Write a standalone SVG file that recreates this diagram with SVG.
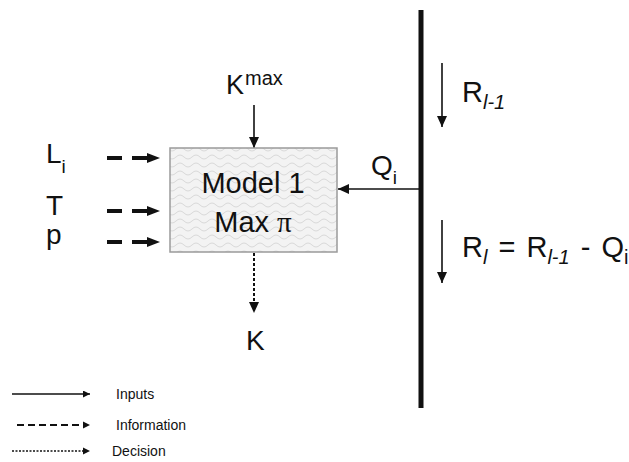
<svg xmlns="http://www.w3.org/2000/svg" width="629" height="462" viewBox="0 0 629 462">
<defs>
<style>
text{font-family:"Liberation Sans",Arial,sans-serif;fill:#111}
.lbl{font-size:28px}
.sub{font-size:19px}
.leg{font-size:14px}
.thin{stroke:#111;stroke-width:1.6;fill:none}
.info{stroke:#111;stroke-width:4;stroke-dasharray:15 10;fill:none}
.dec{stroke:#111;stroke-width:2;stroke-dasharray:3 2;fill:none}
.head{fill:#111}
</style>
<marker id="ah" markerUnits="userSpaceOnUse" markerWidth="12" markerHeight="10" refX="11" refY="5" orient="auto">
<path d="M0,0 L11,5 L0,10 Z" fill="#111"/>
</marker>
<marker id="ahs" markerUnits="userSpaceOnUse" markerWidth="8" markerHeight="7" refX="7" refY="3.5" orient="auto">
<path d="M0,0 L7,3.5 L0,7 Z" fill="#111"/>
</marker>
<pattern id="wave" patternUnits="userSpaceOnUse" width="16" height="8">
<rect width="16" height="8" fill="#f3f3f3"/>
<path d="M0,5 Q4,1 8,5 T16,5" stroke="#d9d9d9" stroke-width="1" fill="none"/>
</pattern>
</defs>

<g id="connectors">
<line class="thin" x1="254" y1="105" x2="254" y2="148" marker-end="url(#ah)"/>
<line class="thin" x1="420" y1="189" x2="338" y2="189" marker-end="url(#ah)"/>
<line class="dec" x1="254" y1="253" x2="254" y2="313" marker-end="url(#ah)"/>
<line class="info" x1="107" y1="158" x2="147" y2="158"/>
<path class="head" d="M147,153 L160,158 L147,163 Z"/>
<line class="info" x1="107" y1="211" x2="147" y2="211"/>
<path class="head" d="M147,206 L160,211 L147,216 Z"/>
<line class="info" x1="107" y1="242" x2="147" y2="242"/>
<path class="head" d="M147,237 L160,242 L147,247 Z"/>
<line class="thin" x1="442" y1="63" x2="442" y2="127" marker-end="url(#ah)"/>
<line class="thin" x1="442" y1="220" x2="442" y2="283" marker-end="url(#ah)"/>
</g>

<g id="stream">
<line x1="421" y1="10" x2="421" y2="408" stroke="#111" stroke-width="5"/>
</g>

<g id="model1">
<rect x="170" y="148" width="167" height="104" fill="url(#wave)" stroke="#9a9a9a" stroke-width="1.5"/>
<text x="253" y="193" text-anchor="middle" style="font-size:29px">Model 1</text>
<text x="253" y="232" text-anchor="middle" style="font-size:29px">Max <tspan style="font-family:'Liberation Serif',serif">π</tspan></text>
</g>

<g id="kmax">
<text x="226" y="94" style="font-size:27px">K<tspan x="245" y="85" style="font-size:20px">max</tspan></text>
</g>
<g id="li"><text class="lbl" x="46" y="163">L<tspan class="sub" dy="10">i</tspan></text></g>
<g id="t"><text class="lbl" x="46" y="215">T</text></g>
<g id="p"><text class="lbl" x="46" y="244">p</text></g>
<g id="qi"><text class="lbl" x="371" y="175">Q<tspan class="sub" dy="9">i</tspan></text></g>
<g id="k"><text class="lbl" x="246" y="350">K</text></g>
<g id="rl1"><text class="lbl" x="462" y="102" style="font-size:29px">R<tspan class="sub" dy="7" font-style="italic" style="font-size:20px">l-1</tspan></text></g>
<g id="rl"><text class="lbl" x="462" y="257" style="font-size:29px;word-spacing:3px">R<tspan class="sub" dy="7" font-style="italic" style="font-size:20px">l</tspan><tspan dy="-7"> = R</tspan><tspan class="sub" dy="7" font-style="italic" style="font-size:20px">l-1</tspan><tspan dy="-7"> - Q</tspan><tspan class="sub" dy="7" style="font-size:20px">i</tspan></text></g>

<g id="legend">
<line class="thin" x1="12" y1="394" x2="90" y2="394" stroke-width="1.3" marker-end="url(#ahs)"/>
<text class="leg" x="116" y="399">Inputs</text>
<line x1="17" y1="425" x2="84" y2="425" stroke="#111" stroke-width="2.2" stroke-dasharray="7 4"/>
<path class="head" d="M83,421.5 L90,425 L83,428.5 Z"/>
<text class="leg" x="116" y="430">Information</text>
<line x1="12" y1="451" x2="84" y2="451" stroke="#111" stroke-width="1.3" stroke-dasharray="2 1.5"/>
<path class="head" d="M83,447.5 L90,451 L83,454.5 Z"/>
<text class="leg" x="112" y="456">Decision</text>
</g>
</svg>
